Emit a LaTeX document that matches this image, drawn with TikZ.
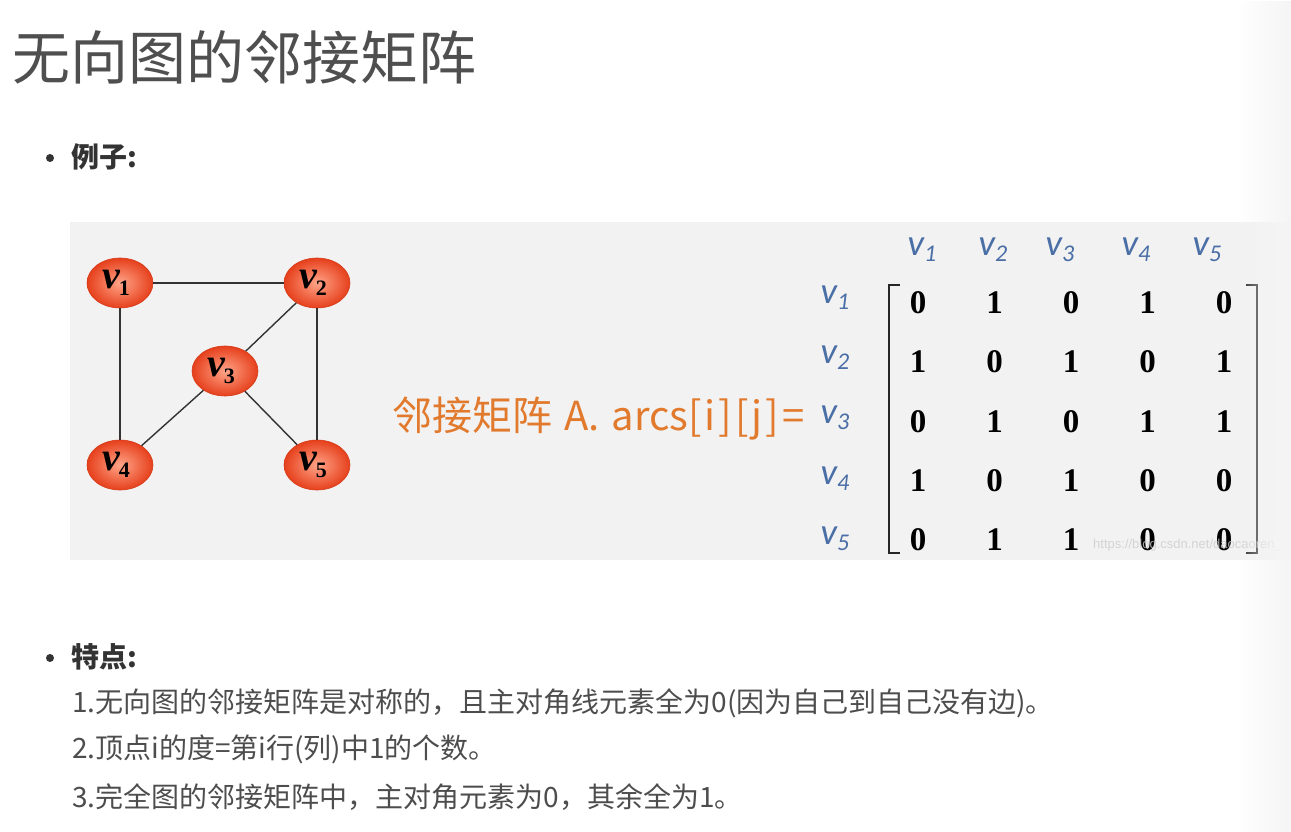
\documentclass[tikz,border=0pt]{standalone}
\usepackage{fontspec}
\setmainfont{Liberation Serif}
\newfontfamily\cjk{Noto Sans CJK SC}
\newfontfamily\lblfont{Carlito}
\newfontfamily\wmfont{Liberation Sans}
\usetikzlibrary{shapes.geometric,fadings}
\definecolor{boxgray}{HTML}{F2F2F2}
\definecolor{titlegray}{HTML}{4F4F4F}
\definecolor{headgray}{HTML}{333333}
\definecolor{bodygray}{HTML}{4D4D4D}
\definecolor{orangetxt}{HTML}{E27A2E}
\definecolor{bluelbl}{HTML}{4A6EA6}
\definecolor{nodeout}{HTML}{E6401C}
\definecolor{nodein}{HTML}{FFA488}
\definecolor{nodeline}{HTML}{D63B1A}
\definecolor{edgegray}{HTML}{333333}
\definecolor{edgefade}{HTML}{F5F5F5}
\tikzfading[name=fadeinright, left color=transparent!100, right color=transparent!0]
\newcommand{\vlab}[1]{{\fontsize{40}{40}\selectfont\bfseries\itshape v}\kern-1pt\raisebox{-7pt}{\fontsize{22}{22}\selectfont\bfseries #1}}
\newcommand{\blab}[1]{{\lblfont\fontsize{37}{37}\selectfont\itshape v}\raisebox{-6pt}{\lblfont\fontsize{24}{24}\selectfont\itshape #1}}
\begin{document}
\begin{tikzpicture}[x=1pt,y=-1pt,
  gnode/.style={ellipse, minimum width=66pt, minimum height=50pt, inner sep=0pt, draw=nodeline, line width=0.6pt, inner color=nodein, outer color=nodeout, text=black},
  glabel/.style={xshift=-4pt, yshift=0pt},
  gedge/.style={draw=edgegray, line width=1.4pt},
  txt/.style={inner sep=0pt, anchor=west},
  headtxt/.style={txt, text=headgray, font=\cjk\bfseries\fontsize{28}{30}\selectfont},
  bodytxt/.style={txt, text=bodygray, font=\cjk\fontsize{28}{30}\selectfont},
  bullet/.style={circle, fill=headgray, inner sep=0pt, minimum size=8pt},
  blabel/.style={inner sep=0pt, text=bluelbl},
  entry/.style={inner sep=0pt, font=\bfseries\fontsize{33}{33}\selectfont, text=black},
  bracket/.style={draw=black!85, line width=2.2pt}]
\useasboundingbox (0,0) rectangle (1291,832);
\fill[white] (0,0) rectangle (1291,832);
% gray panel
\fill[boxgray] (70,222) rectangle (1291,560);
% title and headings
\node[txt, text=titlegray, font=\cjk\fontsize{58}{60}\selectfont] (title) at (12,57) {无向图的邻接矩阵};
\node[bullet] (b1) at (50,158) {};
\node[headtxt] (h1) at (71,157) {例子:};
\node[bullet] (b2) at (50,658) {};
\node[headtxt] (h2) at (71,657) {特点:};
\node[bodytxt] (l1) at (72,703) {1.无向图的邻接矩阵是对称的，且主对角线元素全为0(因为自己到自己没有边)。};
\node[bodytxt] (l2) at (72,749) {2.顶点i的度=第i行(列)中1的个数。};
\node[bodytxt] (l3) at (72,797) {3.完全图的邻接矩阵中，主对角元素为0，其余全为1。};
% graph
\node[gnode] (v1) at (120,283) {};
\node[gnode] (v2) at (317,283) {};
\node[gnode] (v3) at (225,371) {};
\node[gnode] (v4) at (120,465) {};
\node[gnode] (v5) at (317,465) {};
\node[glabel] (t1) at (v1) {\vlab{1}};
\node[glabel] (t2) at (v2) {\vlab{2}};
\node[glabel] (t3) at (v3) {\vlab{3}};
\node[glabel] (t4) at (v4) {\vlab{4}};
\node[glabel] (t5) at (v5) {\vlab{5}};
\draw[gedge] (v1) -- (v2);
\draw[gedge] (v1) -- (v4);
\draw[gedge] (v2) -- (v5);
\draw[gedge] (v2) -- (v3);
\draw[gedge] (v3) -- (v4);
\draw[gedge] (v3) -- (v5);
% formula text
\node[txt, text=orangetxt, font=\cjk\fontsize{40}{42}\selectfont] (formula) at (392,419) {邻接矩阵\hspace{12pt}A.\hspace{12pt}arcs[\kern3pt i\kern3pt]\kern3pt[\kern3pt j\kern3pt]\kern3pt=};
% column labels
\node[blabel] (c1) at (922,250) {\blab{1}};
\node[blabel] (c2) at (993,250) {\blab{2}};
\node[blabel] (c3) at (1060,250) {\blab{3}};
\node[blabel] (c4) at (1136,250) {\blab{4}};
\node[blabel] (c5) at (1207,250) {\blab{5}};
% row labels
\node[blabel] (r1) at (835,298) {\blab{1}};
\node[blabel] (r2) at (835,358) {\blab{2}};
\node[blabel] (r3) at (835,418) {\blab{3}};
\node[blabel] (r4) at (835,479) {\blab{4}};
\node[blabel] (r5) at (835,539) {\blab{5}};
% matrix entries
\foreach \r/\y/\vals in {1/303/{0,1,0,1,0}, 2/362/{1,0,1,0,1}, 3/422/{0,1,0,1,1}, 4/481/{1,0,1,0,0}, 5/540/{0,1,1,0,0}}{
  \foreach \v [count=\c] in \vals {
    \pgfmathsetmacro{\xx}{918+76.5*(\c-1)}
    \node[entry] (m-\r-\c) at (\xx,\y) {\v};
  }
}
% brackets
\draw[bracket] (900,285) -- (889,285) -- (889,553) -- (900,553);
\draw[bracket] (1246,285) -- (1257,285) -- (1257,553) -- (1246,553);
% watermark
\node[inner sep=0pt, anchor=west, text=white!80!black, opacity=0.8, font=\wmfont\fontsize{13}{13}\selectfont] (wm) at (1093,545) {https://blog.csdn.net/daocaoren\_};
% right edge fade
\fill[edgefade, path fading=fadeinright] (1238,0) rectangle (1291,832);
\end{tikzpicture}
\end{document}
